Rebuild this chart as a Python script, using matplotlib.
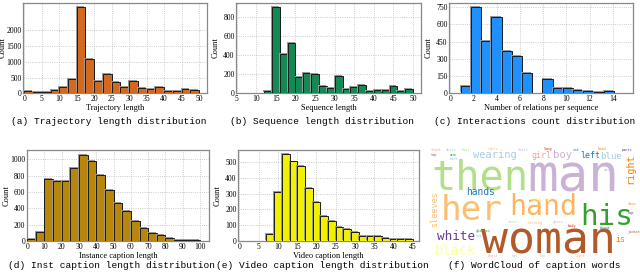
import matplotlib
matplotlib.use("Agg")
import matplotlib.pyplot as plt
import matplotlib.patheffects as pe
import numpy as np

# ---- histogram data (bin edges + counts) ----
traj_edges = np.arange(0, 50.1, 2.5)
traj_counts = [65, 55, 55, 105, 190, 455, 2720, 1085, 405, 615,
               360, 190, 400, 170, 125, 195, 80, 65, 150, 115]

seq_edges = np.arange(10, 50.1, 2)
seq_counts = [3, 21, 900, 414, 524, 166, 207, 197, 79, 52,
              179, 48, 62, 83, 28, 31, 38, 72, 24, 45]

rel_edges = np.linspace(0, 15, 18)
rel_counts = [4, 61, 756, 459, 663, 369, 328, 180, 0, 128,
              47, 49, 26, 23, 9, 17, 6]

inst_edges = np.arange(0, 100.1, 5)
inst_counts = [20, 110, 760, 740, 740, 900, 1058, 980, 810, 630,
               470, 370, 240, 160, 100, 75, 40, 15, 15, 10]

vid_edges = np.arange(7, 45.1, 2)
vid_counts = [43, 313, 549, 504, 477, 336, 249, 157, 128, 89,
              74, 57, 34, 32, 32, 19, 10, 10, 10]

# ---- word cloud words ----
words = ["then", "man", "her", "hand", "his", "woman", "white", "black",
         "wearing", "girl", "boy", "left", "blue", "right", "hands",
         "shirt", "sleeves", "is"]
word_colors = ["#b2df8a", "#cab2d6", "#fdbf6f", "#fdb45e", "#33a02c", "#b15928",
               "#6a3d9a", "#ffff99", "#a6cee3", "#fb9a99", "#cab2d6", "#1f78b4",
               "#a6cee3", "#ff7f00", "#1f78b4", "#ffff99", "#fdbf6f", "#ff7f00"]
filler_words = ["front", "dress", "hair", "table", "short", "long", "red",
                "head", "pants", "top", "arm", "back", "side", "dark", "shoes",
                "holding", "green", "body", "phone", "face", "cup", "jacket",
                "glasses", "bag", "chair", "hat", "one", "light"]
filler_colors = ["#fb9a99", "#a6cee3", "#b2df8a", "#fdbf6f", "#cab2d6", "#e31a1c",
                 "#1f78b4", "#ff7f00", "#6a3d9a", "#b15928", "#33a02c", "#a6cee3"]

# layout of the cloud, in figure pixels: (x_left, y_baseline/bottom, width_or_height, rotation)
word_layout = [(431, 190, 97, 0), (527, 192, 92, 0), (441, 220, 62, 0),
               (509, 215, 68, 0), (580, 225, 53, 0), (481, 254, 135, 0),
               (437, 240, 38, 0), (435, 255, 41, 0), (473, 158, 44, 0),
               (532, 158, 20, 0), (553, 158, 19, 0), (580, 158, 20, 0),
               (600, 159, 22, 0), (625, 184, 31, 90), (466, 195, 29, 0),
               (530, 202, 20, 0), (430, 227, 36, 90), (615, 242, 10, 0)]
filler_layout = [(431, 151), (446, 151), (462, 151), (488, 150), (518, 151),
                 (544, 150), (572, 151), (598, 150), (622, 151), (431, 156),
                 (450, 156), (450, 160), (604, 166), (604, 171), (508, 223),
                 (528, 224), (553, 223), (568, 227), (600, 229), (628, 205),
                 (628, 214), (628, 233), (476, 232), (476, 237), (488, 257),
                 (512, 257), (540, 257), (575, 257)]

hist_specs = [
    (traj_edges, traj_counts, "#d2691e", "Trajectory length",
     "(a) Trajectory length distribution", (23.3, 2.7, 207, 93.3),
     (-0.3, 52.3), 2870, [0, 500, 1000, 1500, 2000], np.arange(0, 51, 5)),
    (seq_edges, seq_counts, "#138a55", "Sequence length",
     "(b) Sequence length distribution", (236.3, 2.7, 421.3, 93.3),
     (4.9, 52.1), 945, [0, 200, 400, 600, 800], np.arange(5, 51, 5)),
    (rel_edges, rel_counts, "#1e90ff", "Number of relations per sequence",
     "(c) Interactions count distribution", (449.3, 2.7, 633.3, 93.3),
     (-0.09, 15.77), 790, [0, 150, 300, 450, 600, 750], np.arange(0, 15, 2)),
    (inst_edges, inst_counts, "#b8860b", "Instance caption length",
     "(d) Inst caption length distribution", (26.7, 150.3, 209.3, 241),
     (-0.3, 105.4), 1111, [0, 200, 400, 600, 800, 1000], np.arange(0, 101, 10)),
    (vid_edges, vid_counts, "#f0f000", "Video caption length",
     "(e) Video caption length distribution", (238.3, 150.3, 419.3, 241),
     (-0.3, 46.7), 575, [0, 100, 200, 300, 400, 500], np.arange(0, 46, 5)),
]

W, H = 640, 274
fig = plt.figure(figsize=(W / 100, H / 100), dpi=100)
serif = "Liberation Serif"
mono = "Liberation Mono"

for edges, counts, color, xlabel, caption, box, xlim, ytop, yticks, xticks in hist_specs:
    x0, y0, x1, y1 = box
    ax = fig.add_axes([x0 / W, 1 - y1 / H, (x1 - x0) / W, (y1 - y0) / H])
    edges = np.asarray(edges)
    bars = ax.bar(edges[:-1], counts, width=np.diff(edges), align="edge",
                  color=color, edgecolor="#1a1a1a", linewidth=0.7, zorder=3)
    for b in bars:
        b.set_path_effects([pe.SimplePatchShadow(offset=(-0.7, 0.7),
                                                 shadow_rgbFace="#999999", alpha=1.0),
                            pe.Normal()])
    ax.set_xlim(*xlim)
    ax.set_ylim(0, ytop)
    ax.set_xticks(xticks)
    ax.set_yticks(yticks)
    ax.grid(True, linestyle=":", color="#bbbbbb", linewidth=0.6, zorder=0)
    ax.tick_params(length=0, pad=1.2, labelsize=5.5)
    for lab in ax.get_xticklabels() + ax.get_yticklabels():
        lab.set_family(serif)
    ax.set_xlabel(xlabel, fontsize=6, family=serif, labelpad=1)
    ax.set_ylabel("Count", fontsize=6, family=serif)
    ax.yaxis.set_label_coords(-16.5 / (x1 - x0), 0.5)
    for s in ax.spines.values():
        s.set_color("#888888")
        s.set_linewidth(0.9)
    cap_y = 122 if y0 < 100 else 266
    fig.text((x0 + x1) / 2 / W - 0.01, 1 - cap_y / H, caption, ha="center",
             va="center", fontsize=6.8, family=mono)

# ---- word cloud panel ----
axw = fig.add_axes([429 / W, 1 - 257 / H, 211 / W, 110 / H])
axw.set_xlim(429, 640)
axw.set_ylim(257, 147)
axw.axis("off")
fig.canvas.draw()
renderer = fig.canvas.get_renderer()


def fit_word(word, color, x, y, size, rot):
    t = axw.text(x, y, word, fontsize=10, color=color, family="DejaVu Sans Mono",
                 rotation=rot, ha="left", va="baseline" if rot == 0 else "bottom",
                 zorder=2)
    bb = t.get_window_extent(renderer)
    ext = bb.width if rot == 0 else bb.height
    t.set_fontsize(10 * size / ext)
    return t


for i, fw in enumerate(filler_words):
    fx, fy = filler_layout[i]
    axw.text(fx, fy, fw, fontsize=2.6, color=filler_colors[i % len(filler_colors)],
             family="DejaVu Sans Mono", ha="left", va="baseline", zorder=1)

for word, color, (wx, wy, wsize, rot) in zip(words, word_colors, word_layout):
    fit_word(word, color, wx, wy, wsize, rot)

fig.text(534 / W, 1 - 266 / H, "(f) WordCloud of caption words", ha="center",
         va="center", fontsize=6.8, family=mono)

fig.savefig("out.png", dpi=100)
